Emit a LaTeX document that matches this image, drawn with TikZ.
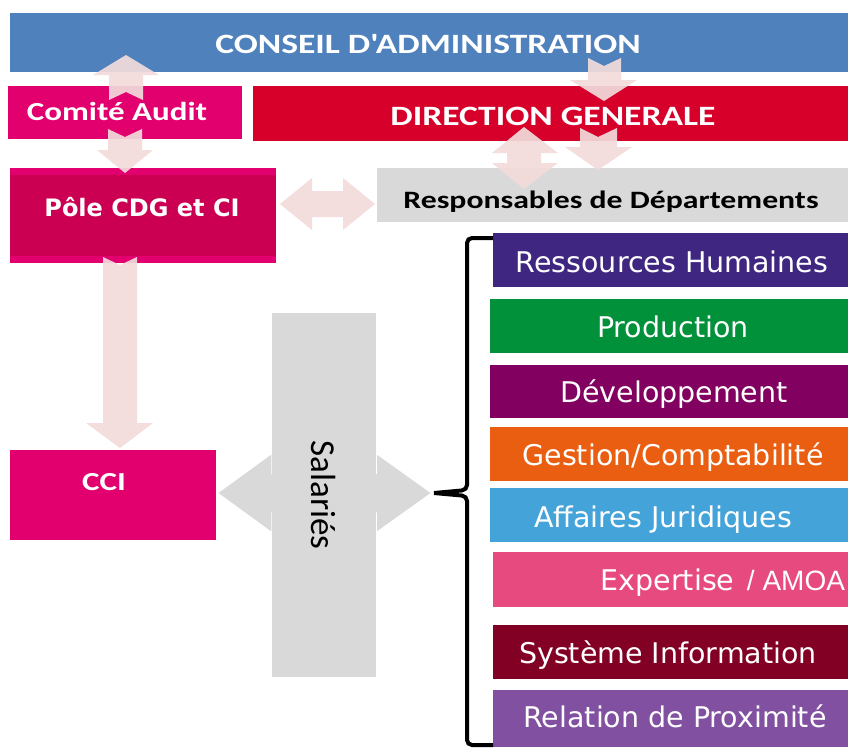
\documentclass[tikz,border=0pt]{standalone}
\usepackage{fontspec}
\usepackage{graphicx}
\setmainfont{DejaVu Sans}
\newfontfamily\calfont{Carlito}
\newfontfamily\arfont{Liberation Sans}
\definecolor{cblue}{HTML}{4F81BD}
\definecolor{cpink}{HTML}{E2006F}
\definecolor{cred}{HTML}{D6002B}
\definecolor{cpole}{HTML}{CC0052}
\definecolor{cgray}{HTML}{D9D9D9}
\definecolor{crh}{HTML}{3F2680}
\definecolor{cprod}{HTML}{00913A}
\definecolor{cdev}{HTML}{82005F}
\definecolor{cgest}{HTML}{E95E10}
\definecolor{caff}{HTML}{44A3D9}
\definecolor{cexp}{HTML}{E64A7F}
\definecolor{csys}{HTML}{830025}
\definecolor{crel}{HTML}{8150A0}
\definecolor{carrow}{HTML}{F2DCDB}
\newcommand{\widetxt}[1]{\scalebox{1.27}[1]{#1}}
\tikzset{
  box/.style={rectangle, inner sep=0pt, outer sep=0pt, anchor=north west, draw=none},
  pinkarrow/.style={fill=carrow, draw=none, fill opacity=0.92},
  grayarrow/.style={fill=cgray, draw=white, line width=1.5pt},
  txt/.style={inner sep=0pt, outer sep=0pt, anchor=base, text=white},
  depttxt/.style={txt, font=\fontsize{28.5}{31}\selectfont},
  brace/.style={draw=black, line width=4pt, rounded corners=5pt}
}
\begin{document}
\begin{tikzpicture}[x=1pt, y=-1pt]
\useasboundingbox (0,0) rectangle (848,747);
\fill[white] (0,0) rectangle (848,747);

% top boxes
\node[box, fill=cblue, minimum width=838pt, minimum height=59pt] (conseil) at (10,13) {};
\node[box, fill=cpink, minimum width=234pt, minimum height=53pt] (comite) at (8,86) {};
\node[box, fill=cred, minimum width=595pt, minimum height=55pt] (dg) at (253,86) {};
\node[box, fill=cpink, minimum width=266pt, minimum height=95pt] (pole) at (10,168) {};
\node[box, fill=cpole, minimum width=266pt, minimum height=81pt] (poleinner) at (10,175) {};
\node[box, fill=cgray, minimum width=471pt, minimum height=54pt] (resp) at (377,168) {};
\node[box, fill=cpink, minimum width=206pt, minimum height=90pt] (cci) at (10,450) {};

% departments
\node[box, fill=crh, minimum width=355pt, minimum height=54pt] (rh) at (493,233) {};
\node[box, fill=cprod, minimum width=358pt, minimum height=54pt] (prod) at (490,299) {};
\node[box, fill=cdev, minimum width=358pt, minimum height=53pt] (dev) at (490,365) {};
\node[box, fill=cgest, minimum width=358pt, minimum height=54pt] (gest) at (490,427) {};
\node[box, fill=caff, minimum width=358pt, minimum height=54pt] (aff) at (490,488) {};
\node[box, fill=cexp, minimum width=355pt, minimum height=55pt] (exp) at (493,552) {};
\node[box, fill=csys, minimum width=355pt, minimum height=54pt] (sys) at (493,625) {};
\node[box, fill=crel, minimum width=355pt, minimum height=57pt] (rel) at (493,690) {};

% Salaries double arrow + box
\fill[grayarrow] (217,493) -- (272,453) -- (272,473) -- (376,473) -- (376,453) -- (432,493)
  -- (376,533) -- (376,513) -- (272,513) -- (272,533) -- cycle;
\node[box, fill=cgray, minimum width=104pt, minimum height=364pt] (sal) at (272,313) {};
\node[inner sep=0pt, rotate=-90, font=\calfont\fontsize{35}{38}\selectfont, text=black] (saltxt) at (sal.center) {Salariés};

% bracket
\coordinate (brtop) at (493,238);
\coordinate (brbot) at (493,745);
\coordinate (brmid) at (434,493);
\draw[brace] (brtop) -- (467,238) -- (467,490) -- (brmid);
\draw[brace] (brbot) -- (467,745) -- (467,496) -- (brmid);

% pink block arrows
\fill[pinkarrow] (109,100) -- (126,92) -- (143,100) -- (143,75) -- (159,75) -- (126,55) -- (93,75) -- (109,75) -- cycle;
\fill[pinkarrow] (108,129) -- (125,137) -- (142,129) -- (142,150) -- (153,150) -- (125,173) -- (97,150) -- (108,150) -- cycle;
\fill[pinkarrow] (280,204) -- (312,178) -- (312,191) -- (343,191) -- (343,178) -- (375,204)
  -- (343,230) -- (343,217) -- (312,217) -- (312,230) -- cycle;
\fill[pinkarrow] (588,58) -- (604,66) -- (621,58) -- (621,80) -- (637,80) -- (604,101) -- (570,80) -- (588,80) -- cycle;
\fill[pinkarrow] (524,127) -- (558,153) -- (541,153) -- (541,163) -- (558,163) -- (524,189)
  -- (492,163) -- (507,163) -- (507,153) -- (492,153) -- cycle;
\fill[pinkarrow] (580,128) -- (598,137) -- (617,128) -- (617,147) -- (632,147) -- (598,170) -- (565,147) -- (580,147) -- cycle;
\fill[pinkarrow] (103,257) -- (120,265) -- (137,257) -- (137,423) -- (153,423) -- (120,448) -- (86,423) -- (103,423) -- cycle;

% texts
\node[txt, font=\calfont\bfseries\fontsize{28}{30}\selectfont] (conseiltxt) at (428,53) {\widetxt{CONSEIL D'ADMINISTRATION}};
\node[txt, font=\calfont\bfseries\fontsize{26}{28}\selectfont] (comitetxt) at (117,120) {\widetxt{Comité Audit}};
\node[txt, font=\calfont\bfseries\fontsize{28}{30}\selectfont] (dgtxt) at (553,125) {\widetxt{DIRECTION GENERALE}};
\node[txt, font=\bfseries\fontsize{24}{26}\selectfont] (poletxt) at (142,216) {Pôle CDG et CI};
\node[txt, text=black, font=\calfont\bfseries\fontsize{25}{28}\selectfont] (resptxt) at (611,208) {\widetxt{Responsables de Départements}};
\node[txt, font=\calfont\bfseries\fontsize{26}{28}\selectfont] (ccitxt) at (104,490) {\widetxt{CCI}};

\node[depttxt] (rhtxt) at (672,272) {Ressources Humaines};
\node[depttxt] (prodtxt) at (673,337) {Production};
\node[depttxt] (devtxt) at (674,402) {Développement};
\node[depttxt] (gesttxt) at (673,465) {Gestion/Comptabilité};
\node[depttxt] (afftxt) at (663,527) {Affaires Juridiques};
\node[depttxt, anchor=base east] (exptxt) at (845,590) {Expertise\,{\arfont\fontsize{28}{30}\selectfont{} / AMOA}};
\node[depttxt] (systxt) at (668,663) {Système Information};
\node[depttxt] (reltxt) at (675,727) {Relation de Proximité};
\end{tikzpicture}
\end{document}
